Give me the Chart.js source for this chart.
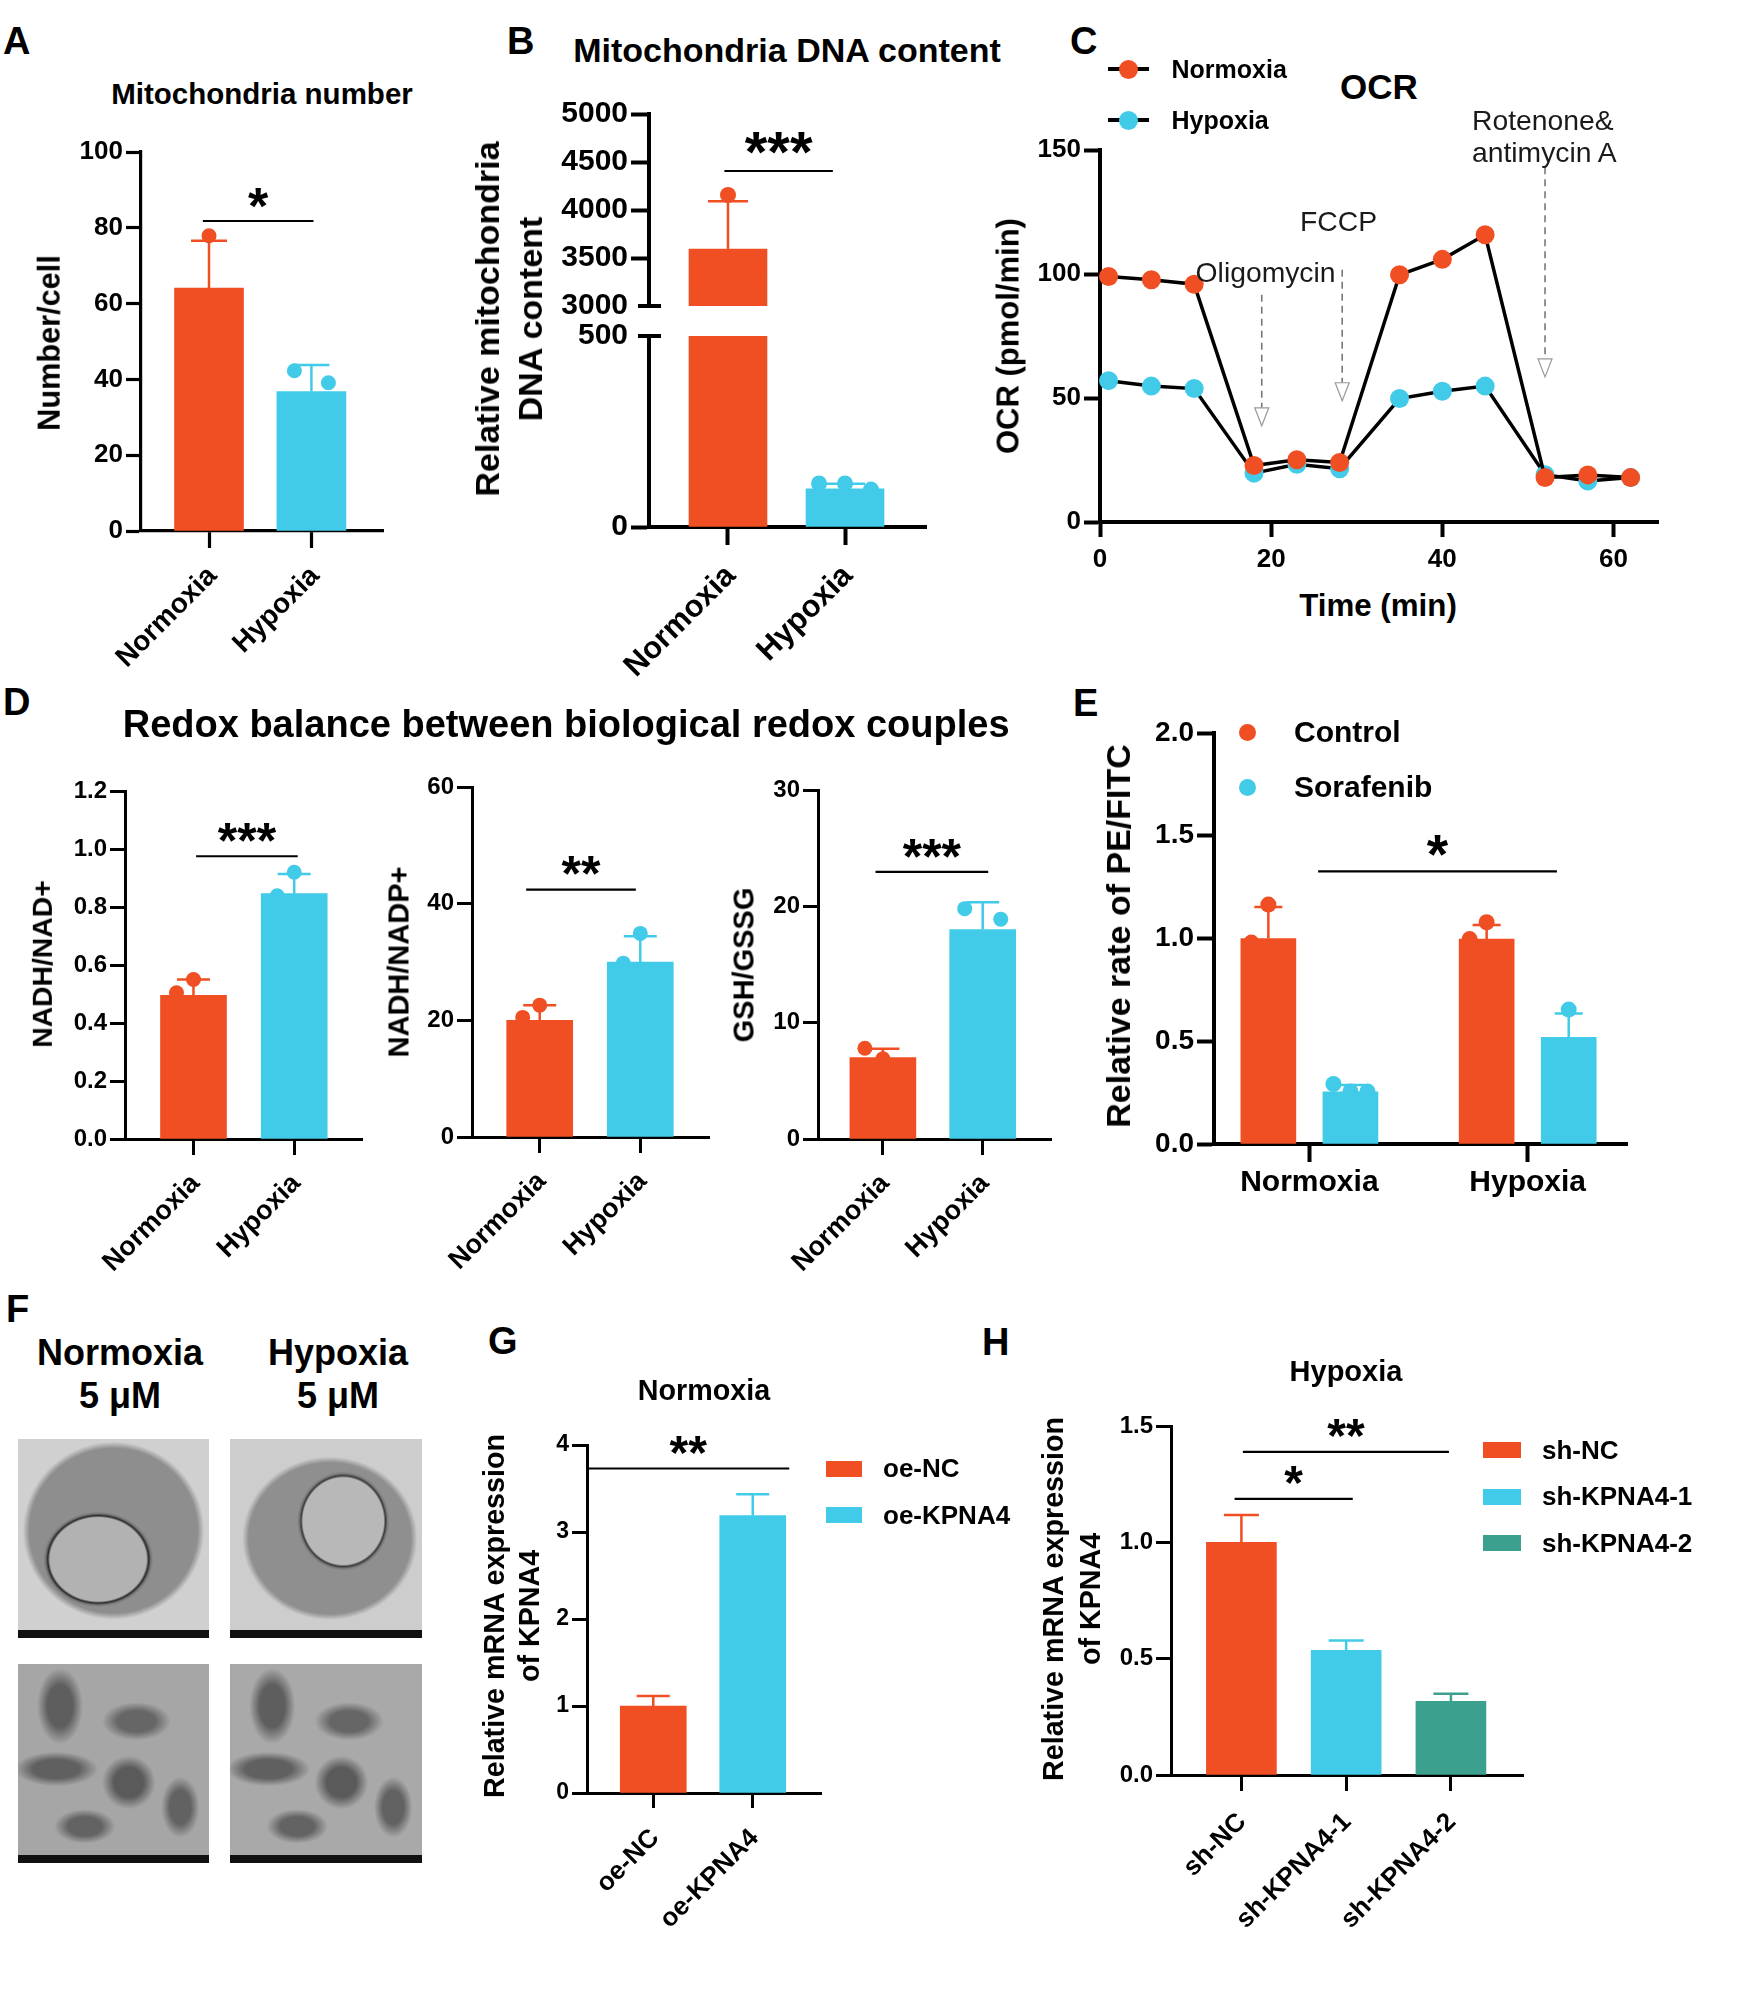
<!DOCTYPE html>
<html>
<head>
<meta charset="utf-8">
<script src="https://cdn.jsdelivr.net/npm/chart.js@4.4.1/dist/chart.umd.min.js"></script>
<style>
html, body { margin: 0; padding: 0; background: #fff; }
#page { position: relative; width: 1746px; height: 2003px; overflow: hidden; background: #fff;
        font-family: "Liberation Sans", Arial, Helvetica, sans-serif; color: #000; }
.t { position: absolute; white-space: nowrap; line-height: 1; font-weight: bold; }
canvas { position: absolute; }
</style>
</head>
<body>
<div id="page"></div>
<script>
const FONT = '"Liberation Sans", Arial, Helvetica, sans-serif';
const RED = '#F04E23', CYAN = '#41CBE8', TEAL = '#3BA08E';

// ---- A: mitochondria number ----
const aGroups = ['Normoxia', 'Hypoxia'];
const aMeans = [64.1, 36.8];
const aErr = [76.6, 43.8];
const aDots = [[60, 77.9, 54.4], [42.3, 29, 39.1]];
const aSig = [{ from: 0.94, to: 2.02, y: 81.8, label: '*' }];

// ---- B: mitochondria DNA content (broken axis) ----
const bGroups = ['Normoxia', 'Hypoxia'];
const bMeans = [3594, 100];
const bErr = [4090, 113];
const bDots = [[3300, 4156, 3326], [114, 114, 98]];
const bSig = [{ from: 0.969, to: 1.896, y: 4406, label: '***' }];

// ---- C: OCR ----
const cTime = [1, 6, 11, 18, 23, 28, 35, 40, 45, 52, 57, 62];
const cNormoxia = [99, 97.7, 95.9, 22.8, 25.1, 24, 99.7, 105.9, 115.8, 17.9, 19, 17.9];
const cHypoxia = [57, 54.8, 53.8, 19.7, 23.3, 21.5, 49.8, 52.7, 54.8, 19.1, 16.5, 17.9];
const cInjections = ['Oligomycin', 'FCCP', 'Rotenone&', 'antimycin A'];
const cInjectTime = [18.9, 28.3, 52];
const cArrowFrom = [91.6, 101.7, 143];
const cArrowTo = [38.8, 48.9, 58.5];

// ---- D: redox couples ----
const dGroups = ['Normoxia', 'Hypoxia'];
const d1Means = [0.495, 0.846];
const d1Err = [0.55, 0.914];
const d1Dots = [[0.504, 0.55, 0.431], [0.839, 0.92, 0.779]];
const d1Sig = [{ from: 1.026, to: 2.035, y: 0.975, label: '***' }];
const d2Means = [20, 30];
const d2Err = [22.6, 34.4];
const d2Dots = [[20.5, 22.6, 16.6], [29.8, 34.9, 25]];
const d2Sig = [{ from: 0.865, to: 1.956, y: 42.4, label: '**' }];
const d3Means = [7, 18];
const d3Err = [7.76, 20.35];
const d3Dots = [[7.8, 6.9, 6.0], [19.8, 15.2, 18.9]];
const d3Sig = [{ from: 0.926, to: 2.055, y: 22.96, label: '***' }];

// ---- E: PE/FITC ----
const eGroups = ['Normoxia', 'Hypoxia'];
const eControl = [1.0, 0.997];
const eControlErr = [1.153, 1.066];
const eControlDots = [[0.98, 1.165, 0.86], [0.997, 1.079, 0.915]];
const eSorafenib = [0.254, 0.519];
const eSorafenibErr = [0.287, 0.635];
const eSorafenibDots = [[0.292, 0.256, 0.256], [0.46, 0.654, 0.443]];
const eSig = [{ from: 1.04, to: 2.134, y: 1.327, label: '*' }];

// ---- G: KPNA4 overexpression ----
const gGroups = ['oe-NC', 'oe-KPNA4'];
const gMeans = [1.0, 3.19];
const gErr = [1.114, 3.435];
const gSig = [{ from: 0.334, to: 2.367, y: 3.73, label: '**' }];

// ---- H: KPNA4 knockdown ----
const hGroups = ['sh-NC', 'sh-KPNA4-1', 'sh-KPNA4-2'];
const hMeans = [1.0, 0.536, 0.317];
const hErr = [1.117, 0.578, 0.349];
const hSig = [{ from: 0.935, to: 2.063, y: 1.187, label: '*' }, { from: 1.014, to: 2.981, y: 1.389, label: '**' }];

Chart.defaults.font.family = FONT;
Chart.defaults.color = '#000';

const page = document.getElementById('page');

function txt(s, x, base, size, opt) {
    opt = opt || {};
    const d = document.createElement('div');
    d.className = 't';
    d.textContent = s;
    d.style.fontSize = size + 'px';
    d.style.top = (base - 0.8465 * size) + 'px';
    d.style.left = x + 'px';
    if (opt.weight) d.style.fontWeight = opt.weight;
    if (opt.color) d.style.color = opt.color;
    if (opt.center) d.style.transform = 'translateX(-50%)';
    page.appendChild(d);
}

function vtxt(lines, cx, cy, size, lh) {
    const d = document.createElement('div');
    d.className = 't';
    d.style.fontSize = size + 'px';
    d.style.lineHeight = (lh || size) + 'px';
    d.style.textAlign = 'center';
    lines.forEach((l, i) => {
        if (i) d.appendChild(document.createElement('br'));
        d.appendChild(document.createTextNode(l));
    });
    d.style.left = cx + 'px';
    d.style.top = cy + 'px';
    d.style.transform = 'translate(-50%, -50%) rotate(-90deg)';
    page.appendChild(d);
}

function box(x, y, w, h, bg, radius) {
    const d = document.createElement('div');
    d.style.cssText = 'position:absolute;left:' + x + 'px;top:' + y + 'px;width:' + w + 'px;height:' + h + 'px;background:' + bg + ';' + (radius ? 'border-radius:' + radius + ';' : '');
    page.appendChild(d);
    return d;
}

function makeCanvas(area, yw, xh, pad) {
    const c = document.createElement('canvas');
    const w = Math.round(area.r - area.l + yw + pad.l + pad.r);
    const h = Math.round(area.b - area.t + xh + pad.t + pad.b);
    c.width = w;
    c.height = h;
    c.style.left = (area.l - yw - pad.l) + 'px';
    c.style.top = (area.t - pad.t) + 'px';
    c.style.width = w + 'px';
    c.style.height = h + 'px';
    page.appendChild(c);
    return c;
}

function yAxis(o) {
    return {
        type: 'linear', min: o.min, max: o.max,
        ticks: { stepSize: o.step, padding: 3, color: '#000', font: { size: o.font, weight: 'bold' }, callback: o.fmt || (v => v) },
        grid: {
            display: true, drawOnChartArea: false, drawTicks: true, tickLength: o.tickLen || 15, tickWidth: o.lw,
            tickColor: c => (o.hideTick != null && c.tick && c.tick.value === o.hideTick) ? 'rgba(0,0,0,0)' : '#000'
        },
        border: { display: true, color: '#000', width: o.lw },
        afterFit: s => { s.width = o.yw; }
    };
}

function drawSig(ctx, xs, ys, p) {
    (p.sig || []).forEach(g => {
        const y = ys.getPixelForValue(g.y);
        const x0 = xs.getPixelForValue(g.from), x1 = xs.getPixelForValue(g.to);
        ctx.strokeStyle = '#000';
        ctx.lineWidth = 2.2;
        ctx.beginPath();
        ctx.moveTo(x0, y);
        ctx.lineTo(x1, y);
        ctx.stroke();
        const fs = p.starSize || 50;
        ctx.fillStyle = '#000';
        ctx.font = 'bold ' + fs + 'px ' + FONT;
        ctx.textAlign = 'center';
        ctx.textBaseline = 'alphabetic';
        ctx.fillText(g.label, (x0 + x1) / 2, y - (p.starGap || 27) + 0.575 * fs);
    });
}

function barExtras(p) {
    return {
        id: 'barExtras',
        afterDatasetsDraw(chart) {
            const ctx = chart.ctx, xs = chart.scales.x, ys = chart.scales.y, A = chart.chartArea;
            const inY = v => v != null && v >= ys.min - 1e-9 && v <= ys.max + 1e-9;
            ctx.save();
            p.series.forEach(s => s.values.forEach((v, i) => {
                const col = Array.isArray(s.color) ? s.color[i] : s.color;
                const x = xs.getPixelForValue(i + 1 + (s.offset || 0));
                ctx.strokeStyle = col;
                ctx.fillStyle = col;
                ctx.lineWidth = p.errW || 2.5;
                if (s.err && inY(v) && inY(s.err[i])) {
                    const y0 = ys.getPixelForValue(v), y1 = ys.getPixelForValue(s.err[i]);
                    ctx.beginPath();
                    ctx.moveTo(x, y0);
                    ctx.lineTo(x, y1);
                    ctx.moveTo(x - p.cap / 2, y1);
                    ctx.lineTo(x + p.cap / 2, y1);
                    ctx.stroke();
                }
                if (s.dots) s.dots[i].forEach((d, j, arr) => {
                    if (!inY(d)) return;
                    const dx = (j - (arr.length - 1) / 2) * p.jitter;
                    ctx.beginPath();
                    ctx.arc(x + dx, ys.getPixelForValue(d), p.dotR, 0, 2 * Math.PI);
                    ctx.fill();
                });
            }));
            drawSig(ctx, xs, ys, p);
            if (p.brk) {
                // axis break: short cross on the axis
                const y = p.brk === 'bottom' ? A.bottom : A.top;
                ctx.strokeStyle = '#000';
                ctx.lineWidth = p.lw;
                ctx.beginPath();
                ctx.moveTo(A.left - 11, y);
                ctx.lineTo(A.left + 12, y);
                ctx.stroke();
            }
            if (p.lab && p.showX !== false) {
                // rotated category labels anchored at the end of the text
                ctx.fillStyle = '#000';
                ctx.font = 'bold ' + p.labSize + 'px ' + FONT;
                ctx.textAlign = 'right';
                ctx.textBaseline = 'alphabetic';
                xs.ticks.forEach(t => {
                    const name = p.groups[Math.round(t.value) - 1];
                    ctx.save();
                    ctx.translate(xs.getPixelForValue(t.value) + p.lab.dx, A.bottom + p.lab.dy);
                    ctx.rotate(-Math.PI / 4);
                    ctx.fillText(name, 0, 0);
                    ctx.restore();
                });
            }
            ctx.restore();
        }
    };
}

function barPanel(p) {
    const yw = p.yw || 100;
    const xh = p.showX === false ? 0 : (p.xh || 180);
    const pad = { l: 0, t: 40, r: 40, b: p.showX === false ? 24 : 0 };
    const cv = makeCanvas(p.area, yw, xh, pad);
    const lw = p.lw || 3;
    p.lw = lw;
    return new Chart(cv, {
        type: 'bar',
        data: {
            datasets: p.series.map(s => ({
                data: s.values.map((v, i) => ({ x: i + 1 + (s.offset || 0), y: v })),
                backgroundColor: s.color, borderWidth: 0, barThickness: p.thickness, grouped: false
            }))
        },
        options: {
            responsive: false, animation: false,
            layout: { padding: { left: pad.l, top: pad.t, right: pad.r, bottom: pad.b } },
            plugins: { legend: { display: false }, tooltip: { enabled: false } },
            scales: {
                x: {
                    type: 'linear', display: p.showX !== false, min: p.xMin, max: p.xMax, offset: false,
                    afterBuildTicks: s => { s.ticks = p.groups.map((g, i) => ({ value: i + 1 })); },
                    ticks: {
                        display: !p.lab, autoSkip: false, minRotation: 0, maxRotation: 0,
                        padding: p.xTickPad == null ? 4 : p.xTickPad,
                        font: p.xFont, color: '#000', callback: v => p.groups[Math.round(v) - 1]
                    },
                    grid: { display: true, drawOnChartArea: false, drawTicks: true, tickLength: p.xTickLen || 16, tickWidth: lw, tickColor: '#000', offset: false },
                    border: { display: true, color: '#000', width: lw },
                    afterFit: s => { s.height = xh; }
                },
                y: yAxis({ min: p.yMin, max: p.yMax, step: p.yStep, font: p.yFont, lw: lw, yw: yw, fmt: p.fmt,
                           tickLen: p.yTickLen, hideTick: p.hideTick })
            }
        },
        plugins: [barExtras(p)]
    });
}

const fix1 = v => Number(v).toFixed(1);

// ================= A =================
barPanel({
    area: { l: 141, t: 152, r: 383, b: 531 }, yw: 100, xh: 180,
    yMin: 0, yMax: 100, yStep: 20, yFont: 26, lw: 3.2,
    xMin: 0.336, xMax: 2.699, labSize: 28, lab: { dx: 9, dy: 46 }, xTickLen: 17,
    groups: aGroups,
    series: [{ values: aMeans, err: aErr, dots: aDots, color: [RED, CYAN] }],
    thickness: 69, cap: 36, jitter: 17, dotR: 7.5, errW: 2.5,
    sig: aSig, starSize: 52
});

// ================= B (two stacked segments) =================
barPanel({
    area: { l: 649, t: 114, r: 926, b: 306 }, yw: 110, showX: false,
    yMin: 3000, yMax: 5000, yStep: 500, yFont: 30, lw: 4, yTickLen: 18, hideTick: 3000,
    xMin: 0.325, xMax: 2.692,
    groups: bGroups,
    series: [{ values: bMeans, err: bErr, dots: bDots, color: [RED, CYAN] }],
    thickness: 78, cap: 40, jitter: 26, dotR: 8, errW: 2.5,
    sig: bSig, starSize: 58, starGap: 32, brk: 'bottom'
});
barPanel({
    area: { l: 649, t: 336, r: 926, b: 527 }, yw: 110, xh: 200,
    yMin: 0, yMax: 500, yStep: 500, yFont: 30, lw: 4, yTickLen: 18, hideTick: 500,
    xMin: 0.325, xMax: 2.692, labSize: 31, lab: { dx: 9, dy: 50 }, xTickLen: 18,
    groups: bGroups,
    series: [{ values: bMeans, err: bErr, dots: bDots, color: [RED, CYAN] }],
    thickness: 78, cap: 40, jitter: 26, dotR: 8, errW: 2.5,
    brk: 'top'
});

// ================= C =================
(function () {
    const area = { l: 1100, t: 150.4, r: 1658, b: 522 };
    const pad = { l: 0, t: 40, r: 40, b: 0 };
    const cv = makeCanvas(area, 100, 60, pad);
    const arrows = {
        id: 'arrows',
        beforeDatasetsDraw(chart) {
            const ctx = chart.ctx, xs = chart.scales.x, ys = chart.scales.y;
            ctx.save();
            cInjectTime.forEach((t, i) => {
                const x = xs.getPixelForValue(t);
                const y0 = ys.getPixelForValue(cArrowFrom[i]), y1 = ys.getPixelForValue(cArrowTo[i]);
                const head = 18, hw = 7;
                ctx.setLineDash([7, 5]);
                ctx.strokeStyle = '#777';
                ctx.lineWidth = 1.6;
                ctx.beginPath();
                ctx.moveTo(x, y0);
                ctx.lineTo(x, y1 - head);
                ctx.stroke();
                ctx.setLineDash([]);
                ctx.lineWidth = 1.2;
                ctx.strokeStyle = '#999';
                ctx.fillStyle = '#fff';
                ctx.beginPath();
                ctx.moveTo(x - hw, y1 - head);
                ctx.lineTo(x + hw, y1 - head);
                ctx.lineTo(x, y1);
                ctx.closePath();
                ctx.fill();
                ctx.stroke();
            });
            ctx.restore();
        }
    };
    new Chart(cv, {
        type: 'line',
        data: {
            datasets: [
                { label: 'Normoxia', data: cTime.map((t, i) => ({ x: t, y: cNormoxia[i] })), borderColor: '#000', borderWidth: 3.5,
                  pointRadius: 9.5, pointBackgroundColor: RED, pointBorderWidth: 0, tension: 0, clip: false, order: 0 },
                { label: 'Hypoxia', data: cTime.map((t, i) => ({ x: t, y: cHypoxia[i] })), borderColor: '#000', borderWidth: 3.5,
                  pointRadius: 9.5, pointBackgroundColor: CYAN, pointBorderWidth: 0, tension: 0, clip: false, order: 1 }
            ]
        },
        options: {
            responsive: false, animation: false,
            layout: { padding: { left: pad.l, top: pad.t, right: pad.r, bottom: pad.b } },
            plugins: { legend: { display: false }, tooltip: { enabled: false } },
            scales: {
                x: {
                    type: 'linear', min: 0, max: 65.2,
                    ticks: { stepSize: 20, includeBounds: false, maxRotation: 0, padding: 7, color: '#000', font: { size: 26, weight: 'bold' } },
                    grid: { display: true, drawOnChartArea: false, drawTicks: true, tickLength: 15, tickWidth: 4, tickColor: '#000' },
                    border: { display: true, color: '#000', width: 4 },
                    afterFit: s => { s.height = 60; }
                },
                y: yAxis({ min: 0, max: 150, step: 50, font: 26, lw: 4, yw: 100, tickLen: 16 })
            }
        },
        plugins: [arrows]
    });
})();

// ================= D =================
barPanel({
    area: { l: 125, t: 790.7, r: 361.7, b: 1138.7 }, yw: 90, xh: 170,
    yMin: 0, yMax: 1.2, yStep: 0.2, yFont: 24, lw: 3, fmt: fix1,
    xMin: 0.32, xMax: 2.673, labSize: 27, lab: { dx: 7.5, dy: 45.5 },
    groups: dGroups,
    series: [{ values: d1Means, err: d1Err, dots: d1Dots, color: [RED, CYAN] }],
    thickness: 66, cap: 33, jitter: 17, dotR: 7.5, errW: 2.5,
    sig: d1Sig, starSize: 50
});
barPanel({
    area: { l: 472, t: 786.8, r: 708.6, b: 1136.7 }, yw: 85, xh: 170,
    yMin: 0, yMax: 60, yStep: 20, yFont: 24, lw: 3,
    xMin: 0.327, xMax: 2.683, labSize: 27, lab: { dx: 7.5, dy: 45.5 },
    groups: dGroups,
    series: [{ values: d2Means, err: d2Err, dots: d2Dots, color: [RED, CYAN] }],
    thickness: 66, cap: 33, jitter: 17, dotR: 7.5, errW: 2.5,
    sig: d2Sig, starSize: 50
});
barPanel({
    area: { l: 818, t: 790, r: 1051.4, b: 1138.7 }, yw: 85, xh: 170,
    yMin: 0, yMax: 30, yStep: 10, yFont: 24, lw: 3,
    xMin: 0.35, xMax: 2.684, labSize: 27, lab: { dx: 7.5, dy: 45.5 },
    groups: dGroups,
    series: [{ values: d3Means, err: d3Err, dots: d3Dots, color: [RED, CYAN] }],
    thickness: 66, cap: 33, jitter: 18, dotR: 7.5, errW: 2.5,
    sig: d3Sig, starSize: 50
});

// ================= E =================
barPanel({
    area: { l: 1214, t: 732.9, r: 1626.5, b: 1143.6 }, yw: 110, xh: 70,
    yMin: 0, yMax: 2, yStep: 0.5, yFont: 28, lw: 4, fmt: fix1, yTickLen: 17,
    xMin: 0.563, xMax: 2.455, xFont: { size: 30, weight: 'bold' }, xTickPad: 3, xTickLen: 18,
    groups: eGroups,
    series: [
        { values: eControl, err: eControlErr, dots: eControlDots, color: RED, offset: -0.188 },
        { values: eSorafenib, err: eSorafenibErr, dots: eSorafenibDots, color: CYAN, offset: 0.188 }
    ],
    thickness: 55, cap: 28, jitter: 17, dotR: 8, errW: 2.5,
    sig: eSig, starSize: 55, starGap: 30
});

// ================= G =================
barPanel({
    area: { l: 586.7, t: 1444.6, r: 820.8, b: 1792.5 }, yw: 80, xh: 170,
    yMin: 0, yMax: 4, yStep: 1, yFont: 23, lw: 3,
    xMin: 0.334, xMax: 2.686, labSize: 26, lab: { dx: 7, dy: 46 }, xTickLen: 15,
    groups: gGroups,
    series: [{ values: gMeans, err: gErr, color: [RED, CYAN] }],
    thickness: 66, cap: 33, jitter: 0, dotR: 0, errW: 2.5,
    sig: gSig, starSize: 48
});

// ================= H =================
barPanel({
    area: { l: 1170.5, t: 1425.8, r: 1522, b: 1774.3 }, yw: 90, xh: 190,
    yMin: 0, yMax: 1.5, yStep: 0.5, yFont: 24, lw: 3, fmt: fix1,
    xMin: 0.328, xMax: 3.688, labSize: 26, lab: { dx: 6, dy: 48 },
    groups: hGroups,
    series: [{ values: hMeans, err: hErr, color: [RED, CYAN, TEAL] }],
    thickness: 70, cap: 35, jitter: 0, dotR: 0, errW: 2.5,
    sig: hSig, starSize: 48
});

// ================= text and legends =================
// panel letters
[['A', 3, 54], ['B', 507, 54.5], ['C', 1070, 54], ['D', 3, 715], ['E', 1073, 716],
 ['F', 6, 1322], ['G', 488, 1354], ['H', 982, 1355]].forEach(l => txt(l[0], l[1], l[2], 38));

// titles
txt('Mitochondria number', 262, 104, 29.5, { center: true });
txt('Mitochondria DNA content', 787, 62, 34, { center: true });
txt('OCR', 1379, 99, 35, { center: true });
txt('Redox balance between biological redox couples', 122.7, 737, 38);
txt('Normoxia', 704, 1400.5, 28.7, { center: true });
txt('Hypoxia', 1346, 1382, 29, { center: true });

// axis titles
vtxt(['Number/cell'], 50, 343, 30.7);
vtxt(['Relative mitochondria', 'DNA content'], 508.5, 319, 34, 43);
vtxt(['OCR (pmol/min)'], 1007.5, 336, 31);
txt('Time (min)', 1378, 616, 31.3, { center: true });
vtxt(['NADH/NAD+'], 42, 964, 28.3);
vtxt(['NADH/NADP+'], 399, 962, 29);
vtxt(['GSH/GSSG'], 744, 965, 29);
vtxt(['Relative rate of PE/FITC'], 1118, 936, 34);
vtxt(['Relative mRNA expression', 'of KPNA4'], 511.5, 1616, 28.7, 35);
vtxt(['Relative mRNA expression', 'of KPNA4'], 1071.5, 1599, 28.7, 37);

// C legend
[[RED, 69, 'Normoxia'], [CYAN, 120, 'Hypoxia']].forEach(l => {
    box(1108, l[1] - 1.75, 41, 3.5, '#000');
    box(1128.5 - 9.5, l[1] - 9.5, 19, 19, l[0], '50%');
    txt(l[2], 1171.5, l[1] + 9, 25);
});
// C injection labels
txt(cInjections[0], 1195.6, 282, 28.3, { weight: 'normal', color: '#1a1a1a' });
txt(cInjections[1], 1300, 231, 28.3, { weight: 'normal', color: '#1a1a1a' });
txt(cInjections[2], 1472, 130, 28.3, { weight: 'normal', color: '#1a1a1a' });
txt(cInjections[3], 1472, 161.6, 28.3, { weight: 'normal', color: '#1a1a1a' });

// E legend
[[RED, 732, 'Control'], [CYAN, 787, 'Sorafenib']].forEach(l => {
    box(1247 - 8.5, l[1] - 8.5, 17, 17, l[0], '50%');
    txt(l[2], 1294, l[1] + 10.5, 30);
});

// G legend
[[RED, 1468.5, 'oe-NC'], [CYAN, 1515, 'oe-KPNA4']].forEach(l => {
    box(826, l[1] - 8, 36, 16, l[0]);
    txt(l[2], 883, l[1] + 9, 26);
});

// H legend
[[RED, 1450, 'sh-NC'], [CYAN, 1496.5, 'sh-KPNA4-1'], [TEAL, 1543, 'sh-KPNA4-2']].forEach(l => {
    box(1483, l[1] - 8, 38, 16, l[0]);
    txt(l[2], 1542, l[1] + 9, 26);
});

// F: micrograph placeholders
txt('Normoxia', 120, 1365, 36, { center: true });
txt('5 μM', 120, 1408, 36, { center: true });
txt('Hypoxia', 338, 1365, 36, { center: true });
txt('5 μM', 338, 1408, 36, { center: true });

function micro(x, y, w, h, bg) {
    const d = box(x, y, w, h, bg);
    d.style.boxSizing = 'border-box';
    d.style.borderBottom = '8px solid #111';
}
micro(18, 1439, 191, 199,
    'radial-gradient(ellipse 30% 26% at 42% 63%, #b2b2b2 0 84%, #2b2b2b 88%, #777 92%, rgba(0,0,0,0) 96%),' +
    'radial-gradient(ellipse 50% 49% at 50% 48%, #8e8e8e 0 88%, rgba(140,140,140,0) 95%), #d0d0d0');
micro(230, 1439, 192, 199,
    'radial-gradient(ellipse 25% 27% at 59% 43%, #b8b8b8 0 84%, #3a3a3a 88%, #7a7a7a 92%, rgba(0,0,0,0) 96%),' +
    'radial-gradient(ellipse 48% 45% at 52% 52%, #8f8f8f 0 88%, rgba(140,140,140,0) 95%), #cdcdcd');
const mito = 'radial-gradient(ellipse 12% 20% at 22% 22%, #5e5e5e 0 55%, rgba(0,0,0,0) 100%),' +
    'radial-gradient(ellipse 18% 10% at 62% 30%, #666 0 55%, rgba(0,0,0,0) 100%),' +
    'radial-gradient(ellipse 22% 9% at 20% 55%, #606060 0 55%, rgba(0,0,0,0) 100%),' +
    'radial-gradient(ellipse 14% 14% at 58% 62%, #5a5a5a 0 55%, rgba(0,0,0,0) 100%),' +
    'radial-gradient(ellipse 10% 16% at 85% 75%, #626262 0 55%, rgba(0,0,0,0) 100%),' +
    'radial-gradient(ellipse 16% 9% at 35% 85%, #636363 0 55%, rgba(0,0,0,0) 100%),';
micro(18, 1664, 191, 199, mito + '#a6a6a6');
micro(230, 1664, 192, 199, mito + '#a9a9a9');
</script>
</body>
</html>
